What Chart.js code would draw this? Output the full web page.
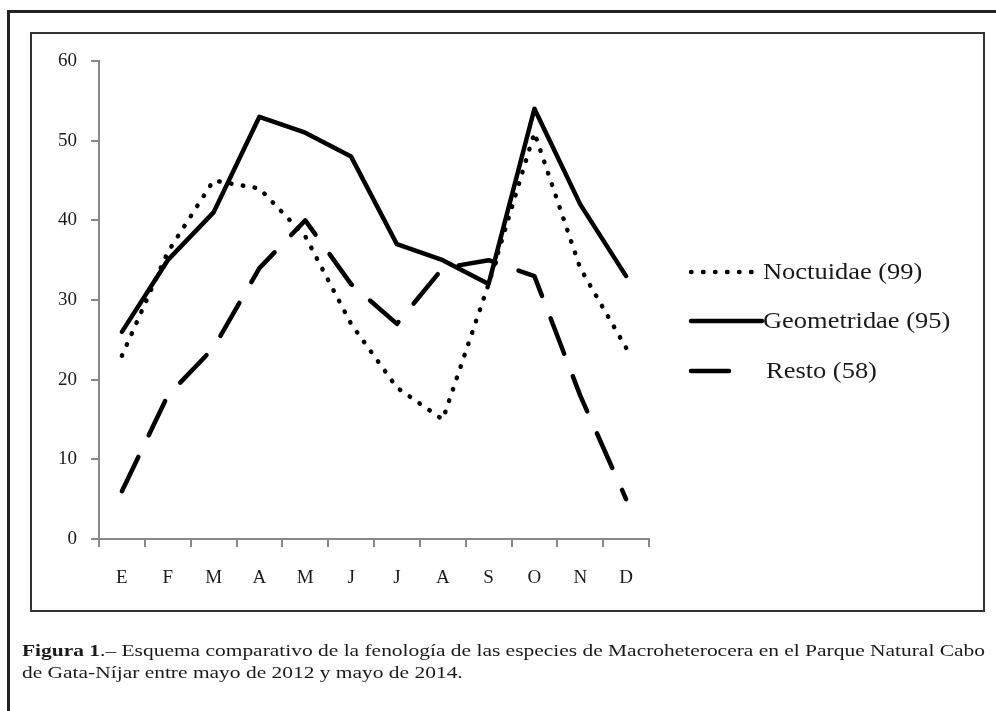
<!DOCTYPE html>
<html>
<head>
<meta charset="utf-8">
<script src="https://cdn.jsdelivr.net/npm/chart.js@4.4.1/dist/chart.umd.min.js"></script>
<style>
  body { margin: 0; background: #fff; }
  #page { position: relative; width: 996px; height: 711px; overflow: hidden; background: #fff; }
  .topline { position: absolute; left: 8px; top: 10px; width: 990px; height: 3px; background: #222; }
  .leftline { position: absolute; left: 7px; top: 10px; width: 3px; height: 710px; background: #222; }
  .box { position: absolute; left: 30px; top: 32px; width: 951px; height: 576px; border: 2px solid #333; }
  #chart { position: absolute; left: 0; top: 0; }
  #cap { position: absolute; left: 22px; top: 640px; font-family: "Liberation Serif", "Times New Roman", serif;
         font-size: 17px; line-height: 22px; color: #1a1a1a; white-space: nowrap; }
  #cap div { transform-origin: 0 0; }
</style>
</head>
<body>
<div id="page">
  <div class="topline"></div>
  <div class="leftline"></div>
  <div class="box"></div>
  <canvas id="chart" width="996" height="711"></canvas>
  <div id="cap">
    <div id="l1"><b>Figura 1</b>.– Esquema comparativo de la fenología de las especies de Macroheterocera en el Parque Natural Cabo</div>
    <div id="l2">de Gata-Níjar entre mayo de 2012 y mayo de 2014.</div>
  </div>
</div>
<script>
// months
var months = ['E', 'F', 'M', 'A', 'M', 'J', 'J', 'A', 'S', 'O', 'N', 'D']

var noctuidae = [23, 36, 45, 44, 38, 27, 19, 15, 32, 51, 34, 24]
var geometridae = [26, 35, 41, 53, 51, 48, 37, 35, 32, 54, 42, 33]
var resto = [6, 18, 24, 34, 40, 32, 27, 34, 35, 33, 18, 5]

var seriesNames = ['Noctuidae (99)', 'Geometridae (95)', 'Resto (58)']

var yTicks = [0, 10, 20, 30, 40, 50, 60]

// legend on the right, drawn by hand (chart.js boxes don't look like excel)
var sideLegend = {
  id: 'sideLegend',
  afterDraw: function(chart) {
    var ctx = chart.ctx
    var rows = [272, 321, 371]
    var lineEnd = [753, 762, 737]
    var textX = [763, 763, 766]
    chart.data.datasets.forEach(function(ds, i) {
      ctx.save()
      ctx.strokeStyle = ds.borderColor
      ctx.lineWidth = ds.borderWidth
      ctx.lineCap = 'round'
      ctx.setLineDash(ds.borderDash || [])
      ctx.beginPath()
      ctx.moveTo(691, rows[i])
      ctx.lineTo(lineEnd[i], rows[i])
      ctx.stroke()
      ctx.restore()

      ctx.save()
      ctx.fillStyle = '#1a1a1a'
      ctx.font = '23px "Liberation Serif", serif'
      ctx.textBaseline = 'middle'
      ctx.translate(textX[i], rows[i] + 1)
      ctx.scale(1.15, 1)
      ctx.fillText(ds.label, 0, 0)
      ctx.restore()
    })
  }
}

var ctx = document.getElementById('chart').getContext('2d')
var chart = new Chart(ctx, {
  type: 'line',
  data: {
    labels: months,
    datasets: [
      {
        label: seriesNames[0],
        data: noctuidae,
        borderColor: '#000',
        borderWidth: 4.5,
        borderDash: [0.5, 11.5],
        borderCapStyle: 'round',
        borderJoinStyle: 'round'
      },
      {
        label: seriesNames[1],
        data: geometridae,
        borderColor: '#000',
        borderWidth: 4.5,
        borderCapStyle: 'round',
        borderJoinStyle: 'round'
      },
      {
        label: seriesNames[2],
        data: resto,
        borderColor: '#000',
        borderWidth: 4.5,
        borderDash: [38, 24],
        borderCapStyle: 'round',
        borderJoinStyle: 'round'
      }
    ]
  },
  options: {
    responsive: false,
    animation: false,
    events: [],
    elements: { point: { radius: 0 }, line: { tension: 0 } },
    layout: { padding: { left: 0, top: 61, right: 347, bottom: 112 } },
    plugins: { legend: { display: false }, tooltip: { enabled: false } },
    scales: {
      x: {
        offset: true,
        grid: { offset: true, drawOnChartArea: false, color: '#888', lineWidth: 2, tickLength: 8 },
        border: { color: '#888', width: 2 },
        ticks: { color: '#1a1a1a', padding: 20, font: { family: '"Liberation Serif", serif', size: 19 } },
        afterFit: function(scale) { scale.height = 60 }
      },
      y: {
        min: 0,
        max: 60,
        afterBuildTicks: function(scale) { scale.ticks = yTicks.map(function(v) { return { value: v } }) },
        grid: { drawOnChartArea: false, color: '#888', lineWidth: 2, tickLength: 8 },
        border: { color: '#888', width: 2 },
        ticks: { color: '#1a1a1a', padding: 14, font: { family: '"Liberation Serif", serif', size: 19 } },
        afterFit: function(scale) { scale.width = 99 }
      }
    }
  },
  plugins: [sideLegend]
})

// stretch caption so the first line runs to the right edge like the print
var l1 = document.getElementById('l1')
var l2 = document.getElementById('l2')
var k = 963 / l1.getBoundingClientRect().width
l1.style.transform = 'scaleX(' + k + ')'
l2.style.transform = 'scaleX(' + k + ')'
</script>
</body>
</html>
